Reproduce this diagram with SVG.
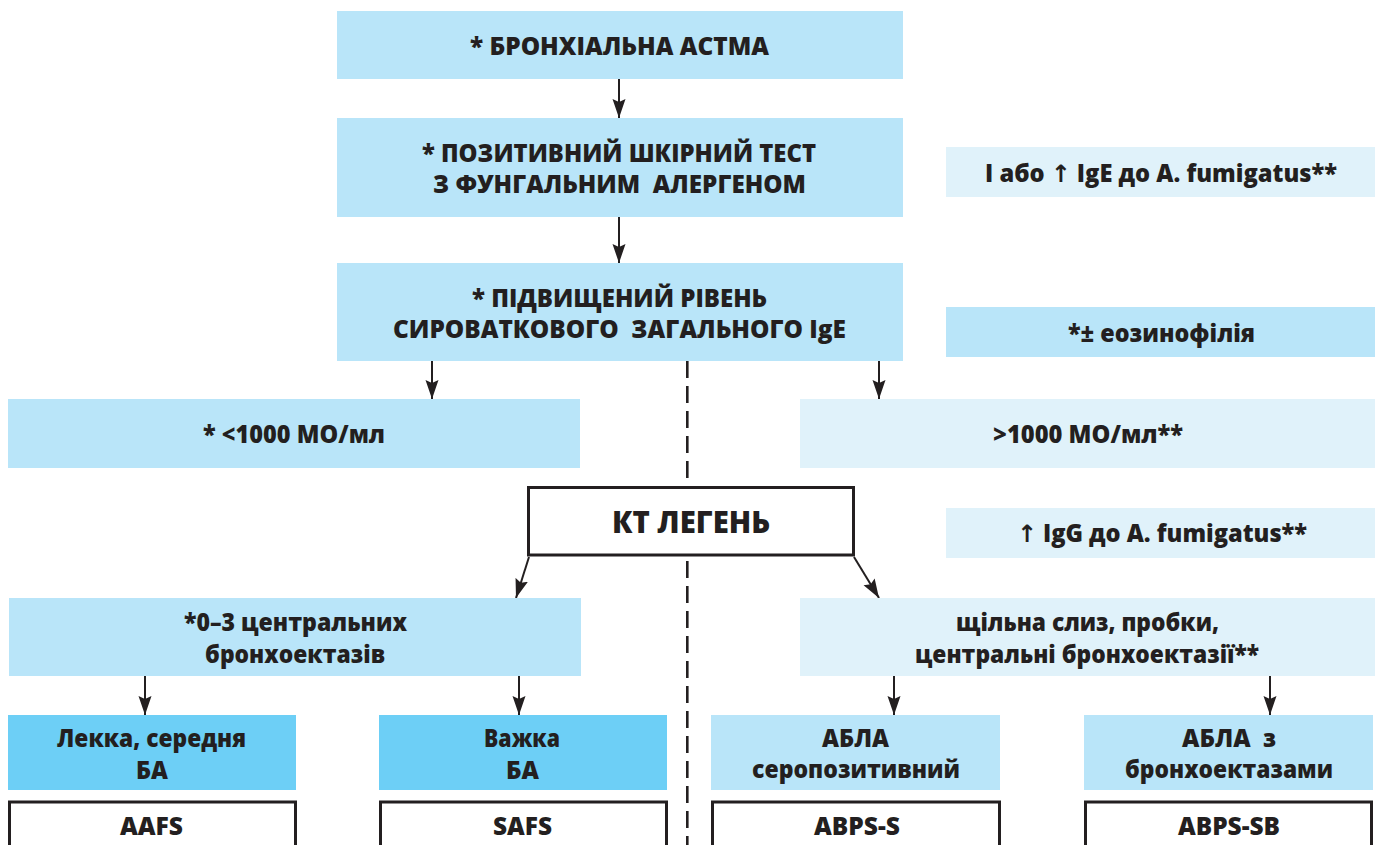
<svg xmlns="http://www.w3.org/2000/svg" width="1375" height="845" viewBox="0 0 1375 845">
<style>
.b{fill:#b9e5f9}
.l{fill:#e0f2fa}
.c{fill:#6dcff6}
.w{fill:#ffffff;stroke:#231f20;stroke-width:3}
text{font-family:"Open Sans",Roboto,"DejaVu Sans",sans-serif;font-weight:800;font-size:24px;fill:#231f20;text-anchor:middle}
.big{font-size:30px}
.con{stroke:#231f20;stroke-width:2;fill:none}
.dash{stroke:#231f20;stroke-width:2.6;fill:none;stroke-dasharray:17 8}
</style>
<defs>
<marker id="ah" viewBox="0 0 19 14" refX="19" refY="7" markerWidth="19" markerHeight="14" markerUnits="userSpaceOnUse" orient="auto">
<path d="M0,0.5 L19,7 L0,13.5 L3,7 Z" fill="#231f20"/>
</marker>
</defs>
<rect width="1375" height="845" fill="#ffffff"/>

<g id="connectors">
<line class="dash" x1="687.3" y1="361" x2="687.3" y2="845"/>
<line class="con" x1="619" y1="79" x2="619" y2="118" marker-end="url(#ah)"/>
<line class="con" x1="619" y1="217" x2="619" y2="263" marker-end="url(#ah)"/>
<line class="con" x1="432" y1="361" x2="432" y2="399" marker-end="url(#ah)"/>
<line class="con" x1="879" y1="361" x2="879" y2="399" marker-end="url(#ah)"/>
<line class="con" x1="529" y1="557" x2="516" y2="598" marker-end="url(#ah)"/>
<line class="con" x1="854" y1="557" x2="879" y2="598" marker-end="url(#ah)"/>
<line class="con" x1="145" y1="676" x2="145" y2="715" marker-end="url(#ah)"/>
<line class="con" x1="519" y1="676" x2="519" y2="715" marker-end="url(#ah)"/>
<line class="con" x1="894" y1="676" x2="894" y2="715" marker-end="url(#ah)"/>
<line class="con" x1="1270" y1="676" x2="1270" y2="715" marker-end="url(#ah)"/>
</g>

<g id="n1"><rect class="b" x="337" y="11" width="566" height="68"/>
<text x="619.5" y="55" textLength="299" lengthAdjust="spacingAndGlyphs">* БРОНХІАЛЬНА АСТМА</text></g>

<g id="n2"><rect class="b" x="337" y="118" width="566" height="99"/>
<text x="619" y="162" textLength="394" lengthAdjust="spacingAndGlyphs">* ПОЗИТИВНИЙ ШКІРНИЙ ТЕСТ</text>
<text x="619.5" y="193" textLength="373" lengthAdjust="spacingAndGlyphs" xml:space="preserve">З ФУНГАЛЬНИМ  АЛЕРГЕНОМ</text></g>

<g id="n3"><rect class="b" x="337" y="263" width="566" height="98"/>
<text x="619.5" y="307" textLength="295" lengthAdjust="spacingAndGlyphs">* ПІДВИЩЕНИЙ РІВЕНЬ</text>
<text x="619.5" y="338" textLength="453" lengthAdjust="spacingAndGlyphs" xml:space="preserve">СИРОВАТКОВОГО  ЗАГАЛЬНОГО IgE</text></g>

<g id="n4"><rect class="l" x="946" y="147" width="429" height="50"/>
<text x="1161" y="182" textLength="352" lengthAdjust="spacingAndGlyphs">І або ↑ IgE до A. fumigatus**</text></g>

<g id="n5"><rect class="b" x="946" y="307" width="429" height="50"/>
<text x="1161.5" y="342" textLength="187" lengthAdjust="spacingAndGlyphs">*± еозинофілія</text></g>

<g id="n6"><rect class="b" x="8" y="399" width="572" height="69"/>
<text x="294" y="443" textLength="182" lengthAdjust="spacingAndGlyphs">* &lt;1000 МО/мл</text></g>

<g id="n7"><rect class="l" x="800" y="399" width="575" height="69"/>
<text x="1088" y="443" textLength="190" lengthAdjust="spacingAndGlyphs">&gt;1000 МО/мл**</text></g>

<g id="n8"><rect class="w" x="528.5" y="487.5" width="325" height="67.5"/>
<text class="big" x="691" y="533" textLength="158" lengthAdjust="spacingAndGlyphs">КТ ЛЕГЕНЬ</text></g>

<g id="n9"><rect class="l" x="946" y="508" width="429" height="50"/>
<text x="1162" y="542" textLength="290" lengthAdjust="spacingAndGlyphs">↑ IgG до A. fumigatus**</text></g>

<g id="n10"><rect class="b" x="9" y="598" width="572" height="78"/>
<text x="295.5" y="631" textLength="223" lengthAdjust="spacingAndGlyphs">*0–3 центральних</text>
<text x="295" y="663" textLength="180" lengthAdjust="spacingAndGlyphs">бронхоектазів</text></g>

<g id="n11"><rect class="l" x="800" y="598" width="575" height="78"/>
<text x="1087.5" y="631" textLength="263" lengthAdjust="spacingAndGlyphs">щільна слиз, пробки,</text>
<text x="1087" y="663" textLength="344" lengthAdjust="spacingAndGlyphs">центральні бронхоектазії**</text></g>

<g id="n12"><rect class="c" x="8" y="715" width="288" height="75"/>
<text x="151.5" y="747" textLength="189" lengthAdjust="spacingAndGlyphs">Лекка, середня</text>
<text x="152" y="779" textLength="32" lengthAdjust="spacingAndGlyphs">БА</text></g>

<g id="n13"><rect class="c" x="379" y="715" width="288" height="75"/>
<text x="522" y="747" textLength="76" lengthAdjust="spacingAndGlyphs">Важка</text>
<text x="522.5" y="779" textLength="33" lengthAdjust="spacingAndGlyphs">БА</text></g>

<g id="n14"><rect class="b" x="711" y="715" width="289" height="75"/>
<text x="855.5" y="747" textLength="67" lengthAdjust="spacingAndGlyphs">АБЛА</text>
<text x="856" y="778" textLength="208" lengthAdjust="spacingAndGlyphs">серопозитивний</text></g>

<g id="n15"><rect class="b" x="1084" y="715" width="289" height="75"/>
<text x="1229" y="747" textLength="94" lengthAdjust="spacingAndGlyphs" xml:space="preserve">АБЛА  з</text>
<text x="1229" y="778" textLength="208" lengthAdjust="spacingAndGlyphs">бронхоектазами</text></g>

<g id="n16"><rect class="w" x="9.5" y="802" width="286" height="60"/>
<text x="151.5" y="835" textLength="63" lengthAdjust="spacingAndGlyphs">AAFS</text></g>

<g id="n17"><rect class="w" x="380.5" y="802" width="286" height="60"/>
<text x="522.5" y="835" textLength="59" lengthAdjust="spacingAndGlyphs">SAFS</text></g>

<g id="n18"><rect class="w" x="712.5" y="802" width="287" height="60"/>
<text x="857" y="835" textLength="86" lengthAdjust="spacingAndGlyphs">ABPS-S</text></g>

<g id="n19"><rect class="w" x="1085.5" y="802" width="286" height="60"/>
<text x="1229" y="835" textLength="102" lengthAdjust="spacingAndGlyphs">ABPS-SB</text></g>
</svg>
